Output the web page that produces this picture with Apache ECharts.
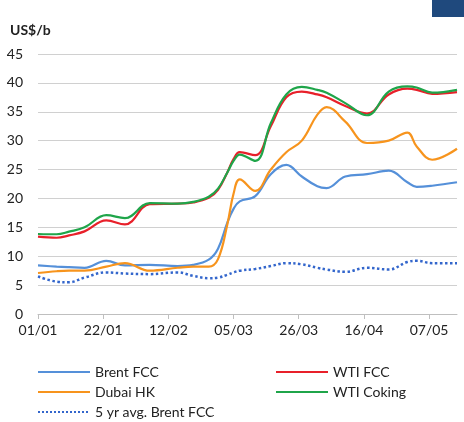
<!DOCTYPE html>
<html>
<head>
<meta charset="utf-8">
<script src="https://cdn.jsdelivr.net/npm/echarts@6/dist/echarts.min.js"></script>
<style>
  html, body { margin: 0; padding: 0; background: #fff; }
  #chart { width: 464px; height: 422px; }
</style>
</head>
<body>
<div id="chart"></div>
<script>
// days since 01/01
const days = [0, 6, 10, 15, 22, 28, 36, 45, 50, 55, 58, 61, 63, 65, 70, 75, 80, 85, 90, 93, 99, 106, 113, 119, 122, 127, 135];
const tickLabels = ['01/01', '22/01', '12/02', '05/03', '26/03', '16/04', '07/05'];

const brentFcc = [8.4, 8.2, 8.1, 8.0, 9.2, 8.4, 8.5, 8.3, 8.5, 9.4, 11.3, 15.8, 18.2, 19.5, 20.4, 24.2, 25.8, 23.8, 22.1, 21.8, 23.8, 24.2, 24.8, 22.8, 22.0, 22.2, 22.8];
const wtiFcc = [13.4, 13.2, 13.6, 14.3, 16.2, 15.5, 19.0, 19.1, 19.3, 20.1, 21.5, 24.5, 26.8, 28.0, 27.5, 32.5, 37.5, 38.5, 38.0, 37.5, 36.0, 34.7, 38.0, 39.0, 38.8, 38.1, 38.4];
const dubaiHk = [7.1, 7.4, 7.5, 7.5, 8.2, 8.8, 7.5, 8.0, 8.2, 8.2, 9.5, 15.5, 20.8, 23.3, 21.3, 25.0, 28.0, 30.0, 34.5, 35.8, 33.3, 29.6, 30.0, 31.4, 29.0, 26.7, 28.6];
const wtiCoking = [13.85, 13.8, 14.25, 15.0, 17.1, 16.6, 19.2, 19.1, 19.4, 20.3, 21.7, 24.5, 26.5, 27.6, 26.5, 33.0, 38.0, 39.3, 38.8, 38.3, 36.5, 34.4, 38.5, 39.4, 39.2, 38.3, 38.8];
const avgBrent5yr = [6.5, 5.6, 5.5, 6.3, 7.2, 7.0, 6.9, 7.2, 6.6, 6.2, 6.3, 6.8, 7.2, 7.5, 7.8, 8.3, 8.8, 8.6, 8.0, 7.7, 7.3, 8.0, 7.7, 9.0, 9.2, 8.8, 8.8];

const font = 'Lato, "Open Sans", sans-serif';
const chart = echarts.init(document.getElementById('chart'));

function pairs(vals) {
    return days.map(function (d, i) { return [d, vals[i]]; });
}

function lineSeries(name, vals, color, type) {
    return {
        name: name,
        type: 'line',
        data: pairs(vals),
        smooth: 0.4,
        symbol: 'none',
        lineStyle: { color: color, width: type === 'dotted' ? 2.5 : 2.2, type: type || 'solid' },
        itemStyle: { color: color }
    };
}

// one legend per entry so the two-column layout matches
function legendAt(name, left, top) {
    return {
        left: left, top: top,
        itemWidth: 52, itemHeight: 14,
        itemStyle: { opacity: 0 },
        textStyle: { fontSize: 14, color: '#222' },
        data: [name]
    };
}

chart.setOption({
    animation: false,
    backgroundColor: '#ffffff',
    textStyle: { fontFamily: font },
    graphic: [{
        type: 'rect',
        shape: { x: 432, y: 0, width: 32, height: 17 },
        style: { fill: '#1F497D' }
    }, {
        type: 'text',
        left: 10, top: 23,
        style: { text: 'US$/b', font: 'bold 14px ' + font, fill: '#222' }
    }],
    grid: { left: 38, right: 7, top: 54, bottom: 108 },
    xAxis: {
        type: 'value',
        min: 0,
        max: 135,
        interval: 21,
        axisLine: { show: true, lineStyle: { color: '#BFBFBF', width: 1 } },
        axisTick: { show: true, length: 5, lineStyle: { color: '#BFBFBF' } },
        splitLine: { show: false },
        axisLabel: {
            color: '#222',
            fontSize: 14,
            margin: 9,
            showMaxLabel: false,
            formatter: function (v) {
                return v % 21 === 0 ? (tickLabels[v / 21] || '') : '';
            }
        }
    },
    yAxis: {
        type: 'value',
        min: 0,
        max: 45,
        interval: 5,
        axisLine: { show: false },
        axisTick: { show: false },
        splitLine: { lineStyle: { color: '#D0D0D0', width: 1 } },
        axisLabel: { color: '#222', fontSize: 14, margin: 15 }
    },
    legend: [
        legendAt('Brent FCC', 32, 360),
        legendAt('Dubai HK', 32, 380),
        legendAt('5 yr avg. Brent FCC', 32, 400),
        legendAt('WTI FCC', 270, 360),
        legendAt('WTI Coking', 270, 380)
    ],
    series: [
        lineSeries('5 yr avg. Brent FCC', avgBrent5yr, '#3366CC', 'dotted'),
        lineSeries('Brent FCC', brentFcc, '#5590D9'),
        lineSeries('Dubai HK', dubaiHk, '#F7941D'),
        lineSeries('WTI FCC', wtiFcc, '#E8202A'),
        lineSeries('WTI Coking', wtiCoking, '#1FA54A')
    ]
});
</script>
</body>
</html>
